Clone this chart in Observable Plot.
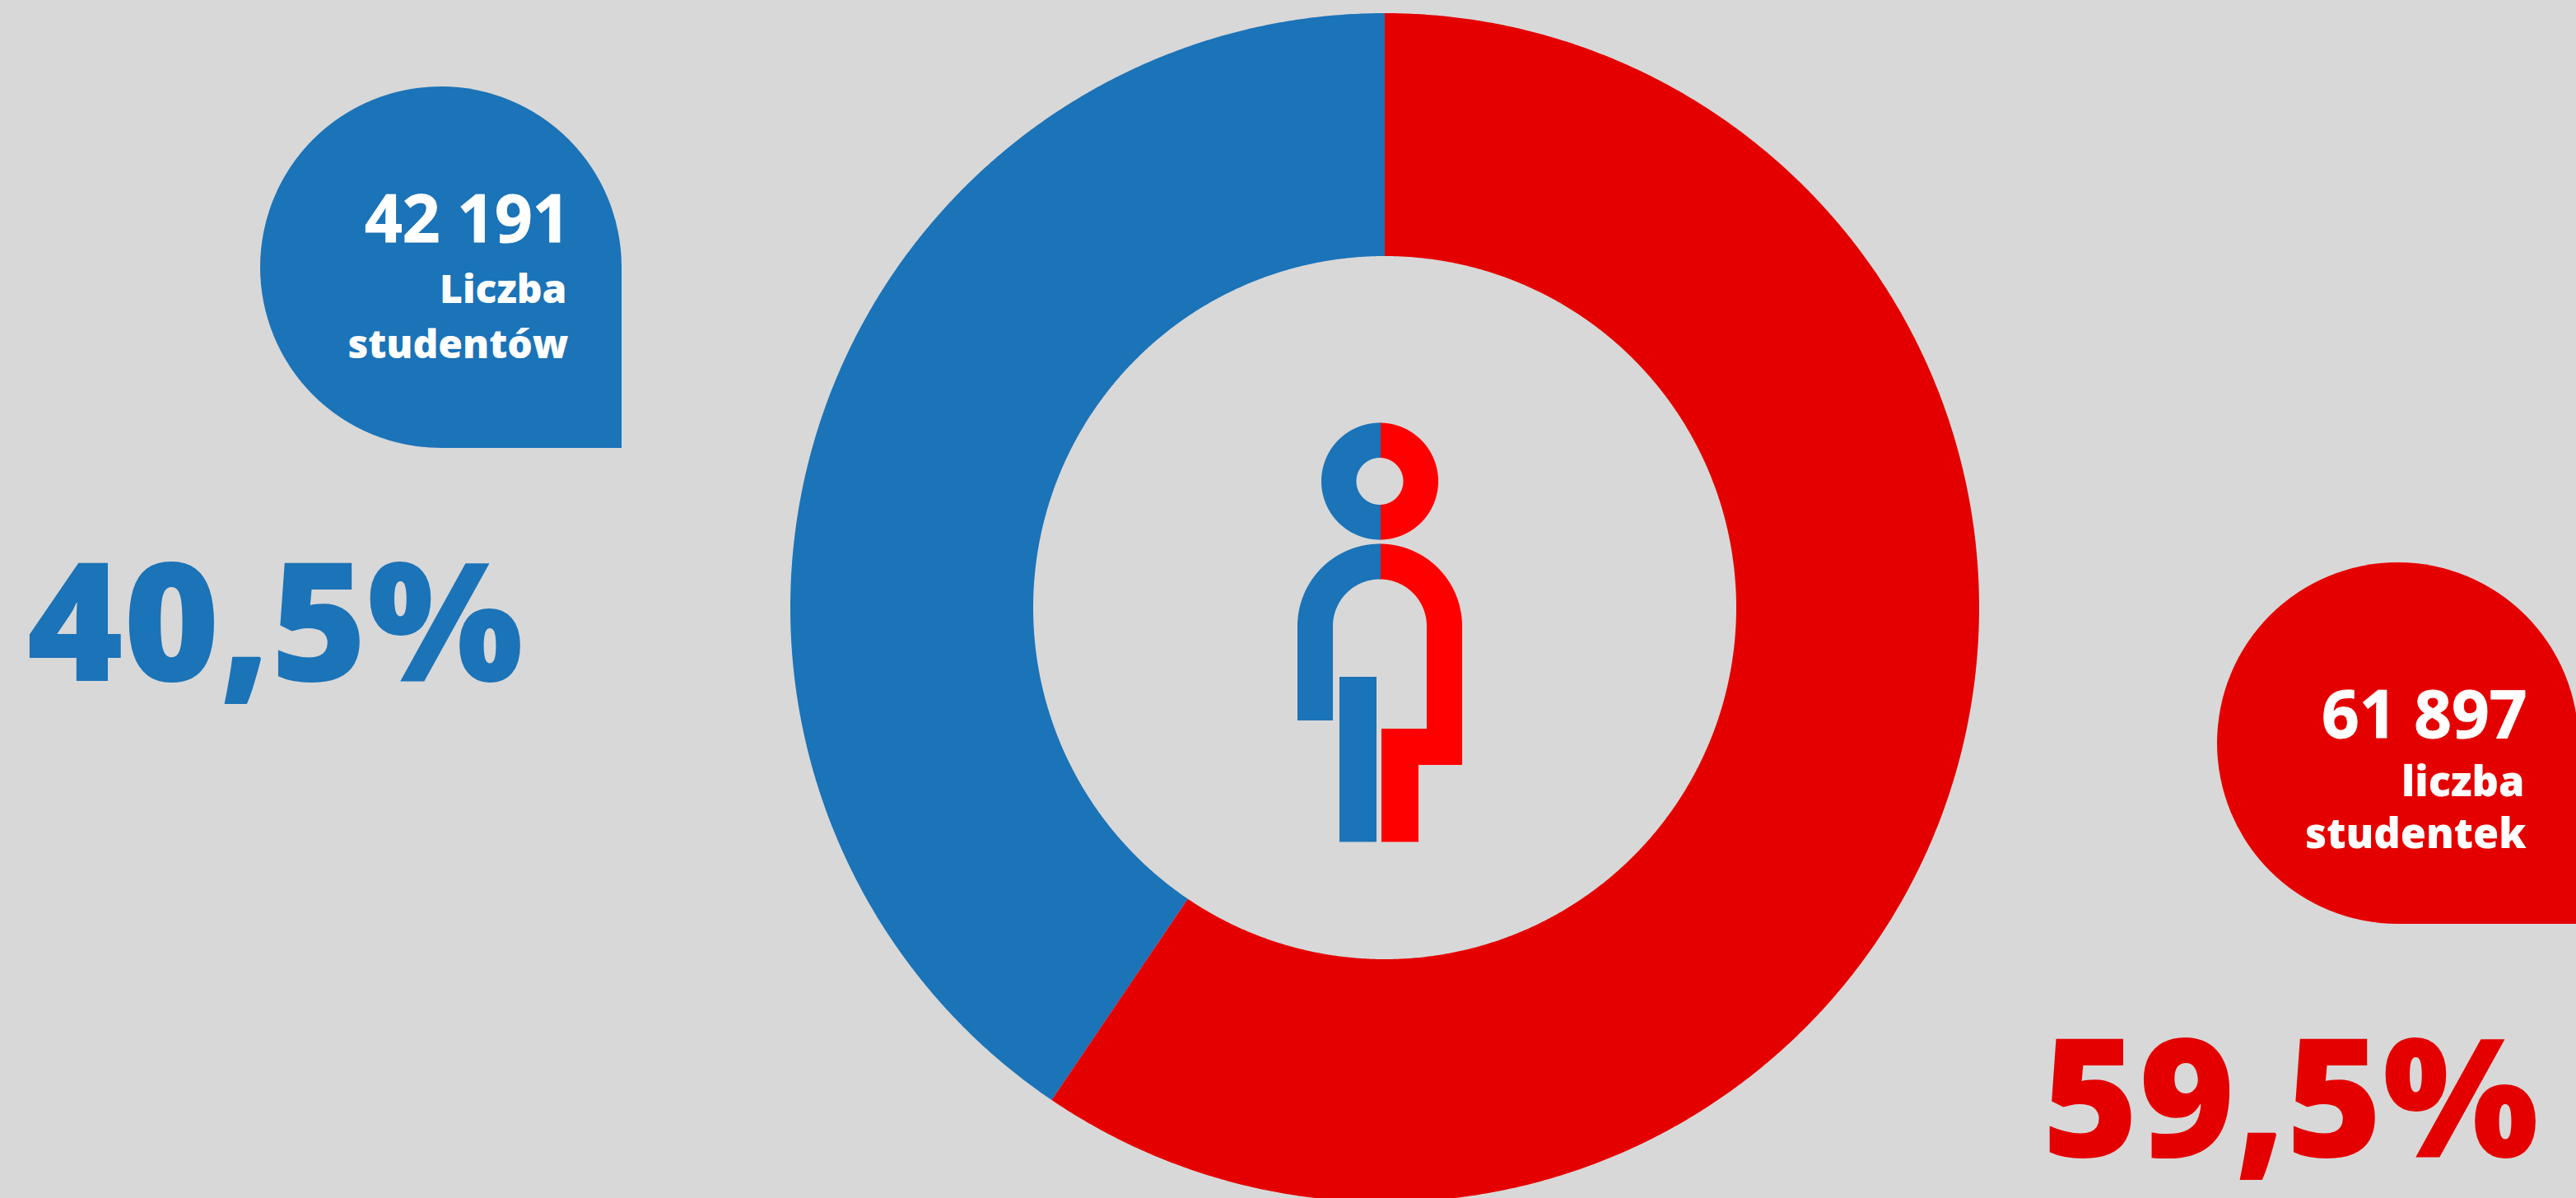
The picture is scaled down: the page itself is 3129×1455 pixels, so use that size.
<!DOCTYPE html>
<html lang="pl">
<head>
<meta charset="utf-8">
<title>Liczba studentów i studentek</title>
<script src="https://cdn.jsdelivr.net/npm/d3@7"></script>
<script src="https://cdn.jsdelivr.net/npm/@observablehq/plot@0.6"></script>
<style>
  html, body { margin: 0; padding: 0; background: #d8d8d8; overflow: hidden; }
  svg { display: block; }
</style>
</head>
<body>
<div id="chart"></div>
<script>
// Data
const categories = ["studenci", "studentki"];
const counts = [42191, 61897];
const countLabels = ["42 191", "61 897"];
const shareLabels = ["40,5%", "59,5%"];
const nameLines = [["Liczba", "studentów"], ["liczba", "studentek"]];
const colors = ["#1b73b8", "#e50000"];
const iconColors = ["#1b73b8", "#ff0000"];

// Layout
const W = 3129, H = 1455;
const donut = {cx: 1682, cy: 738, r0: 427, r1: 722};
const head = {cx: 1676, cy: 584.5, r0: 28.5, r1: 71};
const arch = {cx: 1676, cy: 760.5, r0: 57, r1: 100};
const font = "'Open Sans', sans-serif";

// Annular sector sampled as the band between an outer and an inner arc.
function band(cx, cy, r0, r1, a0, a1, group) {
  const n = Math.max(2, Math.ceil(Math.abs(a1 - a0) * 180));
  return d3.range(n + 1).map((i) => {
    const a = a0 + (a1 - a0) * i / n;
    const s = Math.sin(a), c = -Math.cos(a);
    return {group, x1: cx + r1 * s, y1: cy + r1 * c, x2: cx + r0 * s, y2: cy + r0 * c};
  });
}

const total = d3.sum(counts);
const tau = 2 * Math.PI;
const redSweep = tau * counts[1] / total;
const blueSweep = tau * counts[0] / total;

const slices = [
  ...band(donut.cx, donut.cy, donut.r0, donut.r1, 0, -blueSweep, categories[0]),
  ...band(donut.cx, donut.cy, donut.r0, donut.r1, 0, redSweep, categories[1])
];

const iconBandsBlue = [
  ...band(head.cx, head.cy, head.r0, head.r1, -Math.PI, 0, categories[0] + "-head"),
  ...band(arch.cx, arch.cy, arch.r0, arch.r1, -Math.PI / 2, 0, categories[0] + "-arch")
];
const iconBandsRed = [
  ...band(head.cx, head.cy, head.r0, head.r1, 0, Math.PI, categories[1] + "-head"),
  ...band(arch.cx, arch.cy, arch.r0, arch.r1, 0, Math.PI / 2, categories[1] + "-arch")
];

const iconRectsBlue = [
  {x1: 1576, x2: 1619, y1: 760, y2: 875},
  {x1: 1627, x2: 1672, y1: 822, y2: 1022.5},
  // the colour seam sits a pixel right of the ring centres
  {x1: 1675.5, x2: 1677, y1: 513.5, y2: 556},
  {x1: 1675.5, x2: 1677, y1: 613, y2: 655.5},
  {x1: 1675.5, x2: 1677, y1: 660.5, y2: 703.5}
];
const iconRectsRed = [
  {x1: 1733, x2: 1776, y1: 760, y2: 929},
  {x1: 1678, x2: 1776, y1: 885, y2: 929},
  {x1: 1678, x2: 1723, y1: 885, y2: 1022.5}
];

const bubbles = [
  {cx: 535, cy: 324, r: 219.5, right: 755, bottom: 544},
  {cx: 2912, cy: 902, r: 219.5, right: 3135, bottom: 1122}
];

const areaOpts = {x1: "x1", y1: "y1", x2: "x2", y2: "y2", z: "group", curve: "linear"};
const txt = (d, o) => Plot.text(d, {x: "x", y: "y", text: "t", lineAnchor: "bottom", fontFamily: font, fontWeight: 800, ...o});

const chart = Plot.plot({
  width: W, height: H,
  margin: 0,
  x: {domain: [0, W], range: [0, W], axis: null},
  y: {domain: [0, H], range: [0, H], axis: null},
  style: {background: "#d8d8d8"},
  marks: [
    Plot.area(slices.filter((d) => d.group === categories[0]), {...areaOpts, fill: colors[0], clip: "frame"}),
    Plot.area(slices.filter((d) => d.group === categories[1]), {...areaOpts, fill: colors[1], clip: "frame"}),

    // Bubbles: a disc and its square corner
    Plot.dot([bubbles[0]], {x: "cx", y: "cy", r: bubbles[0].r, fill: colors[0], stroke: null}),
    Plot.rect([bubbles[0]], {x1: "cx", x2: "right", y1: "cy", y2: "bottom", fill: colors[0]}),
    Plot.dot([bubbles[1]], {x: "cx", y: "cy", r: bubbles[1].r, fill: colors[1], stroke: null, clip: "frame"}),
    Plot.rect([bubbles[1]], {x1: "cx", x2: "right", y1: "cy", y2: "bottom", fill: colors[1], clip: "frame"}),

    // Person icon
    Plot.area(iconBandsRed, {...areaOpts, fill: iconColors[1]}),
    Plot.area(iconBandsBlue, {...areaOpts, fill: iconColors[0]}),
    Plot.rect(iconRectsBlue, {x1: "x1", x2: "x2", y1: "y1", y2: "y2", fill: iconColors[0]}),
    Plot.rect(iconRectsRed, {x1: "x1", x2: "x2", y1: "y1", y2: "y2", fill: iconColors[1]}),

    // Counts
    txt([{x: 692, y: 293, t: countLabels[0]}], {textAnchor: "end", fontSize: 80, fontWeight: 700, stroke: "white", strokeWidth: 1, fill: "white"}),
    txt([{x: 688, y: 367, t: nameLines[0][0]}], {textAnchor: "end", fontSize: 48, fill: "white"}),
    txt([{x: 690, y: 434, t: nameLines[0][1]}], {textAnchor: "end", fontSize: 48, fill: "white"}),
    txt([{x: 3069, y: 895, t: countLabels[1]}], {textAnchor: "end", fontSize: 80, fontWeight: 700, stroke: "white", strokeWidth: 1, fill: "white"}),
    txt([{x: 3066, y: 966, t: nameLines[1][0]}], {textAnchor: "end", fontSize: 50.5, fill: "white"}),
    txt([{x: 3068, y: 1029, t: nameLines[1][1]}], {textAnchor: "end", fontSize: 50.5, fill: "white"}),

    // Shares
    txt([{x: 32, y: 826, t: shareLabels[0]}], {textAnchor: "start", fontSize: 200, fill: colors[0]}),
    txt([{x: 2480, y: 1404, t: shareLabels[1]}], {textAnchor: "start", fontSize: 200, fill: colors[1]})
  ]
});
document.getElementById("chart").append(chart);
</script>
</body>
</html>
